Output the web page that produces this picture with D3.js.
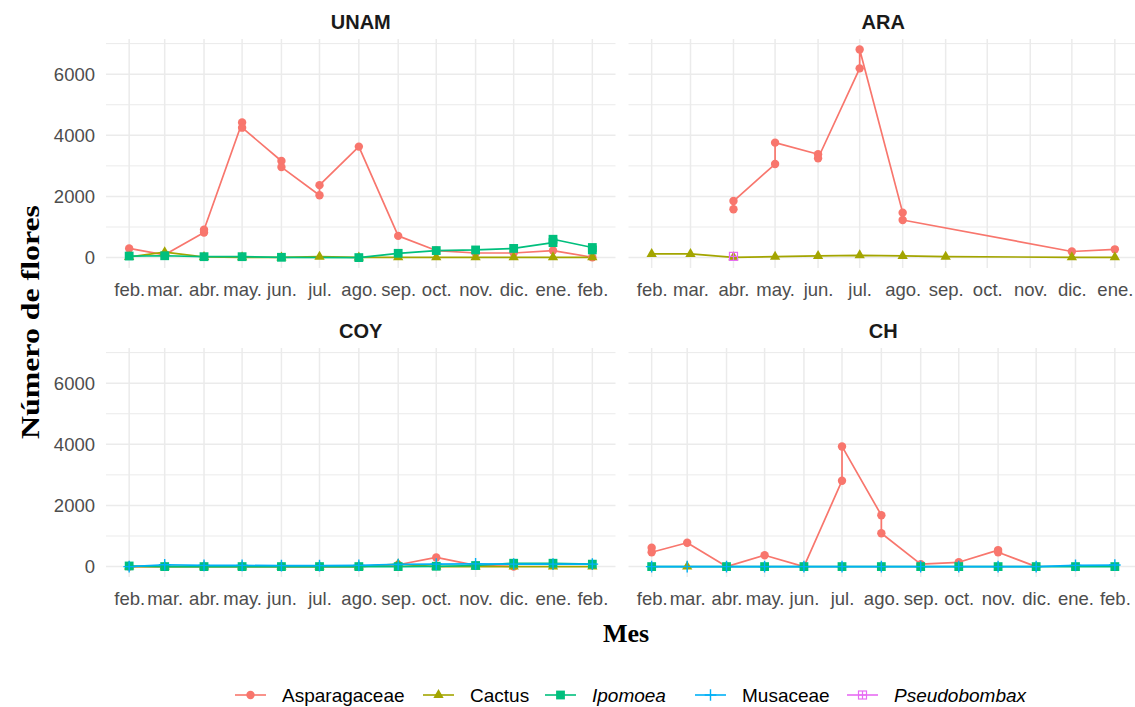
<!DOCTYPE html>
<html>
<head>
<meta charset="utf-8">
<script src="https://cdn.jsdelivr.net/npm/d3@7"></script>
<style>
  body { margin: 0; background: #ffffff; }
  svg { display: block; }
</style>
</head>
<body>
<svg id="chart" width="1135" height="707"></svg>
<script>
// ---- data -------------------------------------------------------------
const monthLabels = ["feb.", "mar.", "abr.", "may.", "jun.", "jul.", "ago.",
                     "sep.", "oct.", "nov.", "dic.", "ene.", "feb."];
const sites = ["UNAM", "ARA", "COY", "CH"];
const siteMonthCount = [13, 12, 13, 13];
const families = ["Asparagaceae", "Cactus", "Ipomoea", "Musaceae", "Pseudobombax"];
const familyColors = ["#F8766D", "#A3A500", "#00BF7D", "#00B0F6", "#E76BF3"];
const italicFamilies = ["Ipomoea", "Pseudobombax"];
const yTicks = [0, 2000, 4000, 6000];

// flower counts as [month index counted from feb., count]
const unamAsparagaceae = [[0, 300], [1, 90], [2, 820], [2, 910], [3, 4420], [3, 4250],
  [4, 3160], [4, 2960], [5, 2040], [5, 2370], [6, 3630], [7, 710], [8, 230],
  [9, 150], [10, 150], [11, 230], [12, 10]];
const unamCactus = [[0, 20], [1, 180], [2, 20], [3, 10], [4, 5], [5, 30], [6, 5],
  [7, 10], [8, 10], [9, 10], [10, 10], [11, 10], [12, 10]];
const unamIpomoea = [[0, 50], [1, 60], [2, 30], [3, 30], [4, 10], [6, 0], [7, 140],
  [8, 230], [9, 250], [10, 300], [11, 490], [11, 600], [12, 330], [12, 250]];

const araAsparagaceae = [[2, 1580], [2, 1850], [3, 3060], [3, 3760], [4, 3380], [4, 3250],
  [5, 6190], [5, 6810], [6, 1470], [6, 1230], [10, 200], [11, 270]];
const araCactus = [[0, 120], [1, 120], [2, 10], [3, 30], [4, 55], [5, 75], [6, 55],
  [7, 30], [10, 10], [11, 10]];
const araPseudobombax = [[2, 40]];

const coyAsparagaceae = [[0, 0], [1, 0], [2, 0], [3, 0], [4, 0], [5, 0], [6, 0],
  [7, 60], [8, 300], [9, 40], [10, 0]];
const coyCactus = [[0, 0], [1, 0], [2, 0], [3, 0], [4, 0], [5, 0], [6, 0], [7, 80],
  [8, 0], [9, 0], [10, 0], [11, 0], [12, 0]];
const coyIpomoea = [[0, 20], [1, 0], [2, 0], [3, 0], [4, 0], [5, 0], [6, 0], [7, 0],
  [8, 10], [9, 35], [10, 110], [11, 110], [12, 80]];
const coyMusaceae = [[0, 0], [1, 60], [2, 40], [3, 40], [4, 30], [5, 30], [6, 40],
  [7, 70], [8, 80], [9, 90], [10, 80], [11, 80], [12, 80]];

const chAsparagaceae = [[0, 620], [0, 470], [1, 780], [2, 0], [3, 370], [4, 0],
  [5, 2810], [5, 3930], [6, 1680], [6, 1090], [7, 80], [8, 140], [9, 540], [9, 470], [10, 0]];
const chCactus = [[1, 0]];
const chIpomoea = [[0, 0], [2, 0], [3, 0], [4, 0], [5, 0], [6, 0], [7, 0], [8, 0],
  [9, 0], [10, 0], [11, 0], [12, 0]];
const chMusaceae = [[0, 0], [1, 0], [2, 0], [3, 0], [4, 0], [5, 0], [6, 0], [7, 0],
  [8, 0], [9, 0], [10, 0], [11, 40], [12, 50]];

const seriesBySite = {
  UNAM: { Asparagaceae: unamAsparagaceae, Cactus: unamCactus, Ipomoea: unamIpomoea },
  ARA:  { Asparagaceae: araAsparagaceae, Cactus: araCactus, Pseudobombax: araPseudobombax },
  COY:  { Asparagaceae: coyAsparagaceae, Cactus: coyCactus, Ipomoea: coyIpomoea, Musaceae: coyMusaceae },
  CH:   { Asparagaceae: chAsparagaceae, Cactus: chCactus, Ipomoea: chIpomoea, Musaceae: chMusaceae }
};

// ---- layout -----------------------------------------------------------
const W = 1135, H = 707;
const colX = [106, 628.5], panelW = 509.5;
const rowY = [39, 348], panelH = 229;
const legendKeyX = [235, 423, 545, 695, 847];
const legendY = 695;

const sans = "'Liberation Sans', Arial, Helvetica, sans-serif";
const serif = "'Liberation Serif', 'Times New Roman', serif";
const gridColor = "#EBEBEB";

const svg = d3.select("#chart");
svg.append("rect").attr("width", W).attr("height", H).attr("fill", "#ffffff");

const monthDate = i => d3.utcMonth.offset(new Date(Date.UTC(2019, 1, 1)), i);
const colorOf = f => familyColors[families.indexOf(f)];

// shared y range over every panel
const allValues = Object.values(seriesBySite)
  .flatMap(s => Object.values(s).flatMap(arr => arr.map(d => d[1])));
const yMax = d3.max(allValues), yMin = 0;
const yPad = (yMax - yMin) * 0.05;

// marker drawing per family
function drawMarker(g, family, cx, cy) {
  const c = colorOf(family);
  if (family === "Asparagaceae") {
    g.append("circle").attr("cx", cx).attr("cy", cy).attr("r", 4.2).attr("fill", c);
  } else if (family === "Cactus") {
    g.append("path").attr("d", d3.symbol(d3.symbolTriangle, 46)())
      .attr("transform", `translate(${cx},${cy})`).attr("fill", c);
  } else if (family === "Ipomoea") {
    g.append("rect").attr("x", cx - 4.4).attr("y", cy - 4.4)
      .attr("width", 8.8).attr("height", 8.8).attr("fill", c);
  } else if (family === "Musaceae") {
    g.append("path").attr("d", `M${cx - 5.8},${cy}H${cx + 5.8}M${cx},${cy - 5.8}V${cy + 5.8}`)
      .attr("stroke", c).attr("stroke-width", 1.4).attr("fill", "none");
  } else {
    g.append("rect").attr("x", cx - 4).attr("y", cy - 4)
      .attr("width", 8).attr("height", 8).attr("fill", "none")
      .attr("stroke", c).attr("stroke-width", 1.2);
    g.append("path").attr("d", `M${cx - 4},${cy}H${cx + 4}M${cx},${cy - 4}V${cy + 4}`)
      .attr("stroke", c).attr("stroke-width", 1.2).attr("fill", "none");
  }
}

sites.forEach((site, si) => {
  const col = si % 2, row = Math.floor(si / 2);
  const x0 = colX[col], y0 = rowY[row];
  const nMonths = siteMonthCount[si];
  const dates = d3.range(nMonths).map(monthDate);
  const span = dates[nMonths - 1] - dates[0];

  const x = d3.scaleUtc()
    .domain([new Date(+dates[0] - span * 0.05), new Date(+dates[nMonths - 1] + span * 0.05)])
    .range([x0, x0 + panelW]);
  const y = d3.scaleLinear()
    .domain([yMin - yPad, yMax + yPad])
    .range([y0 + panelH, y0]);

  const g = svg.append("g");

  // grid: minor y, major y, month lines
  const minor = d3.range(1000, yMax + yPad, 2000);
  g.selectAll(null).data(minor).join("line")
    .attr("x1", x0).attr("x2", x0 + panelW)
    .attr("y1", d => y(d)).attr("y2", d => y(d))
    .attr("stroke", gridColor).attr("stroke-width", 1);
  g.selectAll(null).data(yTicks).join("line")
    .attr("x1", x0).attr("x2", x0 + panelW)
    .attr("y1", d => y(d)).attr("y2", d => y(d))
    .attr("stroke", gridColor).attr("stroke-width", 1.5);
  g.selectAll(null).data(dates).join("line")
    .attr("x1", d => x(d)).attr("x2", d => x(d))
    .attr("y1", y0).attr("y2", y0 + panelH)
    .attr("stroke", gridColor).attr("stroke-width", 1.5);

  // strip title
  svg.append("text")
    .attr("x", x0 + panelW / 2).attr("y", y0 - 10)
    .attr("text-anchor", "middle")
    .attr("font-family", sans).attr("font-size", 20).attr("font-weight", "bold")
    .attr("fill", "#1A1A1A")
    .text(site);

  // x axis
  const xAxis = d3.axisBottom(x)
    .tickValues(dates)
    .tickFormat((d, i) => monthLabels[i])
    .tickSize(0).tickPadding(14.5);
  const xa = svg.append("g").attr("transform", `translate(0,${y0 + panelH})`).call(xAxis);
  xa.select(".domain").remove();
  xa.selectAll("text").attr("font-family", sans).attr("font-size", 18.5).attr("fill", "#4D4D4D");

  // y axis on the left column only
  if (col === 0) {
    const yAxis = d3.axisLeft(y).tickValues(yTicks).tickFormat(d3.format("d"))
      .tickSize(0).tickPadding(11);
    const ya = svg.append("g").attr("transform", `translate(${x0},0)`).call(yAxis);
    ya.select(".domain").remove();
    ya.selectAll("text").attr("font-family", sans).attr("font-size", 18.5).attr("fill", "#4D4D4D");
  }

  // lines first, then points, in family order
  const fams = families.filter(f => seriesBySite[site][f]);
  const line = d3.line().x(d => x(monthDate(d[0]))).y(d => y(d[1]));
  fams.forEach(f => {
    const data = seriesBySite[site][f];
    if (data.length > 1) {
      g.append("path").datum(data).attr("d", line)
        .attr("fill", "none").attr("stroke", colorOf(f))
        .attr("stroke-width", 1.7).attr("stroke-linejoin", "round");
    }
  });
  fams.forEach(f => {
    seriesBySite[site][f].forEach(d => drawMarker(g, f, x(monthDate(d[0])), y(d[1])));
  });
});

// axis titles
svg.append("text")
  .attr("x", 626).attr("y", 642)
  .attr("text-anchor", "middle")
  .attr("font-family", serif).attr("font-size", 26).attr("font-weight", "bold")
  .attr("fill", "#000")
  .text("Mes");

svg.append("text")
  .attr("transform", "translate(39,322) rotate(-90)")
  .attr("text-anchor", "middle")
  .attr("font-family", serif).attr("font-size", 25).attr("font-weight", "bold")
  .attr("fill", "#000")
  .attr("textLength", 234).attr("lengthAdjust", "spacingAndGlyphs")
  .text("Número de flores");

// legend
const lg = svg.append("g");
families.forEach((f, i) => {
  const kx = legendKeyX[i];
  lg.append("line").attr("x1", kx).attr("x2", kx + 31)
    .attr("y1", legendY).attr("y2", legendY)
    .attr("stroke", colorOf(f)).attr("stroke-width", 1.6);
  drawMarker(lg, f, kx + 15.5, legendY);
  lg.append("text")
    .attr("x", kx + 47).attr("y", legendY + 6.5)
    .attr("font-family", sans).attr("font-size", 19)
    .attr("font-style", italicFamilies.includes(f) ? "italic" : "normal")
    .attr("fill", "#000")
    .text(f);
});
</script>
</body>
</html>
